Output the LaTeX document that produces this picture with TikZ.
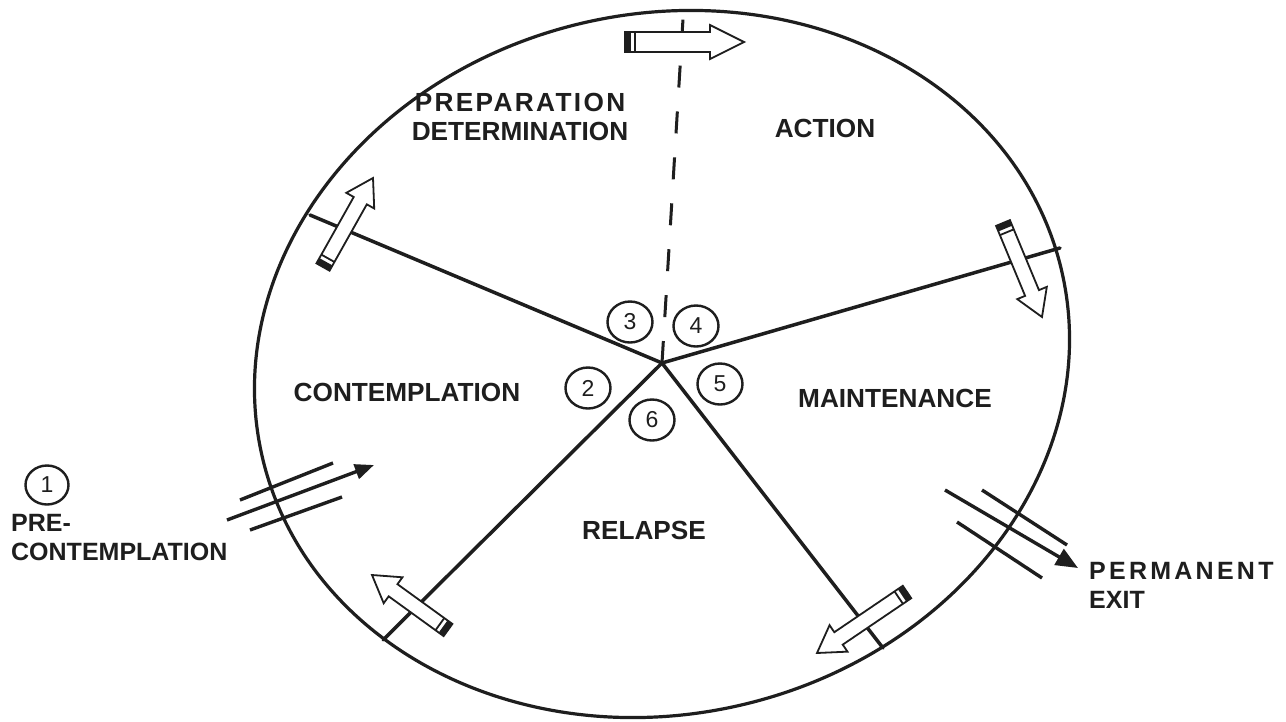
\documentclass[tikz,border=0pt]{standalone}
\usepackage{fontspec}
\setmainfont{Liberation Sans}
\usetikzlibrary{calc,arrows.meta,shapes.geometric}
\newcommand\hollowarrow[5]{%
  \coordinate (ha-t) at (#1);
  \coordinate (ha-p) at (#2);
  \coordinate (ha-b) at ($(ha-p)!#5!(ha-t)$);
  \coordinate (ha-s1) at ($(ha-t)!6pt!(ha-p)$);
  \coordinate (ha-s2) at ($(ha-t)!10pt!(ha-p)$);
  \filldraw[harrow] ($(ha-t)!#3!90:(ha-p)$) -- ($(ha-b)!#3!90:(ha-p)$) -- ($(ha-b)!#4!90:(ha-p)$) -- (ha-p) -- ($(ha-b)!#4!-90:(ha-p)$) -- ($(ha-b)!#3!-90:(ha-p)$) -- ($(ha-t)!#3!-90:(ha-p)$) -- cycle;
  \fill[inkc] ($(ha-t)!#3!90:(ha-p)$) -- ($(ha-s1)!#3!90:(ha-p)$) -- ($(ha-s1)!#3!-90:(ha-p)$) -- ($(ha-t)!#3!-90:(ha-p)$) -- cycle;
  \draw[inkc,line width=1.8pt] ($(ha-s2)!#3!90:(ha-p)$) -- ($(ha-s2)!#3!-90:(ha-p)$);
}
\definecolor{inkc}{HTML}{1E1E1E}
\begin{document}
\begin{tikzpicture}[x=1pt,y=-1pt,
  lbl/.style={font=\bfseries\fontsize{26.2}{29}\selectfont, text=inkc, inner sep=0pt, align=center},
  side/.style={font=\bfseries\fontsize{25}{29}\selectfont, text=inkc, inner sep=0pt, align=left, anchor=west},
  num/.style={draw=inkc, ellipse, minimum width=45pt, minimum height=41pt, line width=2.4pt, inner sep=0pt, text=inkc, font=\fontsize{23}{23}\selectfont},
  radial/.style={draw=inkc, line width=3.5pt, line cap=round},
  flow/.style={draw=inkc, line width=3.4pt},
  harrow/.style={draw=inkc, fill=white, line width=1.8pt, line join=miter}]
\useasboundingbox (0,0) rectangle (1286,721);
\fill[white] (0,0) rectangle (1286,721);
% boundary
\draw[inkc, line width=3.2pt, rotate around={13.2:(662,364)}] (662,364) ellipse [x radius=410.4pt, y radius=350.1pt];
% hub and radial lines
\coordinate (hub) at (662,363);
\coordinate (eUL) at (310,215);
\coordinate (eUR) at (1060,248);
\coordinate (eLL) at (383,640);
\coordinate (eLR) at (883,648);
\coordinate (eT) at (683,19);
\draw[radial] (hub) -- (eUL);
\draw[radial] (hub) -- (eUR);
\draw[radial] (hub) -- (eLL);
\draw[radial] (hub) -- (eLR);
\draw[draw=inkc, line width=3pt, dash pattern=on 22pt off 24pt] (hub) -- (eT);
% hollow arrows
\hollowarrow{625,42}{744,42}{10pt}{17pt}{34pt}
\hollowarrow{323,267}{373,178}{7.5pt}{16pt}{26pt}
\hollowarrow{1003,223}{1042,317}{7.5pt}{16pt}{26pt}
\hollowarrow{448,630}{372,575}{7.5pt}{16pt}{26pt}
\hollowarrow{907,592}{817,653}{7.5pt}{16pt}{26pt}
% numbers
\node[num] (c1) at (47,485) [minimum width=43pt, minimum height=39pt] {1};
\node[num] (c2) at (588,388) {2};
\node[num] (c3) at (630,322) {3};
\node[num] (c4) at (696,326) {4};
\node[num] (c5) at (720,384) {5};
\node[num] (c6) at (652,420) {6};
% labels
\node[lbl] (prep) at (520,117) {{\addfontfeatures{LetterSpace=9}PREPARATION}\\DETERMINATION};
\node[lbl] (action) at (825,128) {ACTION};
\node[lbl] (contemp) at (407,392) {CONTEMPLATION};
\node[lbl] (maint) at (895,398) {MAINTENANCE};
\node[lbl] (relapse) at (644,530) {RELAPSE};
\node[side] (precon) at (11,538) {PRE-\\CONTEMPLATION};
\node[side] (exit) at (1089,585) {{\addfontfeatures{LetterSpace=13}PERMANENT}\\EXIT};
% entry lines
\coordinate (in1a) at (240,500); \coordinate (in1b) at (333,463);
\coordinate (in2a) at (227,520); \coordinate (in2b) at (374,465);
\coordinate (in3a) at (250,530); \coordinate (in3b) at (342,497);
\draw[flow] (in1a) -- (in1b);
\draw[flow, -{Triangle[length=19pt,width=15pt]}] (in2a) -- (in2b);
\draw[flow] (in3a) -- (in3b);
% exit lines
\coordinate (out1a) at (982,490); \coordinate (out1b) at (1067,545);
\coordinate (out2a) at (945,490); \coordinate (out2b) at (1078,568);
\coordinate (out3a) at (957,522); \coordinate (out3b) at (1042,578);
\draw[flow] (out1a) -- (out1b);
\draw[flow, -{Triangle[length=22pt,width=18pt]}] (out2a) -- (out2b);
\draw[flow] (out3a) -- (out3b);
\end{tikzpicture}
\end{document}
